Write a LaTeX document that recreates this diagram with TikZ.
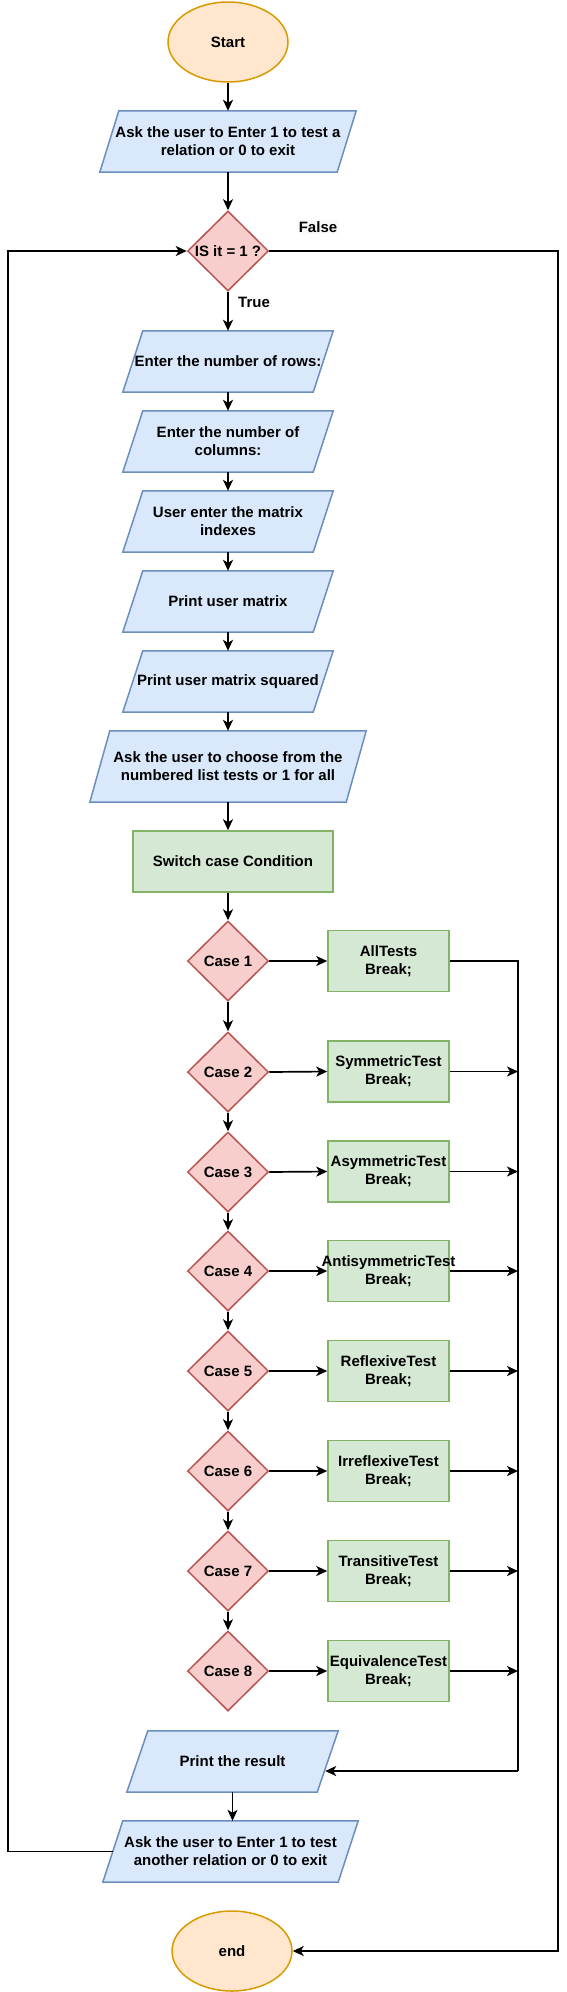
\documentclass[tikz,border=0pt]{standalone}
\usepackage{fontspec}
\setmainfont{Liberation Sans}
\usetikzlibrary{shapes.geometric,arrows.meta,backgrounds,calc}
\definecolor{orF}{HTML}{FFE6CC}
\definecolor{orD}{HTML}{D79B00}
\definecolor{blF}{HTML}{DAE8FC}
\definecolor{blD}{HTML}{6C8EBF}
\definecolor{rdF}{HTML}{F8CECC}
\definecolor{rdD}{HTML}{B85450}
\definecolor{grF}{HTML}{D5E8D4}
\definecolor{grD}{HTML}{82B366}
\definecolor{lblbg}{HTML}{F8F9FA}
\tikzset{
  base/.style={font=\fontsize{15}{18}\selectfont\bfseries, align=center, inner sep=0pt},
  term/.style={base, ellipse, draw=orD, fill=orF, line width=1.5pt, minimum width=120pt, minimum height=80pt},
  io/.style={base, rectangle, minimum width=#1, minimum height=61pt},
  dec/.style={base, diamond, draw=rdD, fill=rdF, line width=1.5pt, minimum width=81pt, minimum height=80pt, aspect=1},
  proc/.style={base, rectangle, draw=grD, fill=grF, line width=1.5pt, minimum width=121pt, minimum height=61pt},
  iopoly/.style={draw=blD, fill=blF, line width=1.5pt},
  arr/.style={line width=1.7pt, -{Stealth[length=11pt,width=10pt,inset=3pt]}},
  ln/.style={line width=1.7pt},
  lbl/.style={base, fill=lblbg, inner sep=1pt}
}
\begin{document}
\begin{tikzpicture}[x=1pt,y=-1pt]
\useasboundingbox (0,0) rectangle (567,1992);
% terminals
\node[term] (start) at (228,42) {Start};
\node[term] (end) at (232,1951) {end};
% io nodes
\node[io=256pt] (ask1) at (228,141.5) {Ask the user to Enter 1 to test a\\relation or 0 to exit};
\node[dec] (isit) at (228,251) {IS it = 1 ?};
\node[io=210pt] (rows) at (228,361.5) {Enter the number of rows:};
\node[io=210pt] (cols) at (228,441.5) {Enter the number of\\columns:};
\node[io=210pt] (idx) at (228,521.5) {User enter the matrix\\indexes};
\node[io=210pt] (pm) at (228,601.5) {Print user matrix};
\node[io=210pt] (pms) at (228,681.5) {Print user matrix squared};
\node[io=276pt, minimum height=71pt] (choose) at (228,766.5) {Ask the user to choose from the\\numbered list tests or 1 for all};
\node[proc, minimum width=200pt] (switch) at (233,861.5) {Switch case Condition};
% cases
\node[dec] (c1) at (228,961) {Case 1};
\node[dec] (c2) at (228,1072) {Case 2};
\node[dec] (c3) at (228,1172) {Case 3};
\node[dec] (c4) at (228,1271) {Case 4};
\node[dec] (c5) at (228,1371) {Case 5};
\node[dec] (c6) at (228,1471) {Case 6};
\node[dec] (c7) at (228,1571) {Case 7};
\node[dec] (c8) at (228,1671) {Case 8};
\node[proc] (b1) at (388.5,961) {AllTests\\Break;};
\node[proc] (b2) at (388.5,1071.5) {SymmetricTest\\Break;};
\node[proc] (b3) at (388.5,1171.5) {AsymmetricTest\\Break;};
\node[proc] (b4) at (388.5,1271) {\makebox[110pt]{AntisymmetricTest}\\Break;};
\node[proc] (b5) at (388.5,1371) {ReflexiveTest\\Break;};
\node[proc] (b6) at (388.5,1471) {IrreflexiveTest\\Break;};
\node[proc] (b7) at (388.5,1571) {TransitiveTest\\Break;};
\node[proc] (b8) at (388.5,1671) {EquivalenceTest\\Break;};
\node[io=211pt] (pr) at (232.5,1761.5) {Print the result};
\node[io=255pt] (again) at (230.5,1851.5) {Ask the user to Enter 1 to test\\another relation or 0 to exit};
% parallelogram outlines
\begin{scope}[on background layer]
\foreach \n/\s in {ask1/19pt, rows/20pt, cols/20pt, idx/20pt, pm/20pt, pms/20pt, choose/20pt, pr/21pt, again/20pt}{
  \draw[iopoly] ([xshift=\s]\n.north west) -- (\n.north east) -- ([xshift=-\s]\n.south east) -- (\n.south west) -- cycle;
}
\end{scope}
% coordinates
\coordinate (colTop) at (518,961);
\coordinate (colBot) at (518,1771);
\coordinate (rtTop) at (558,251);
\coordinate (lfX) at (8,251);
% connectors
\draw[arr] (start) -- (ask1);
\draw[arr] (ask1) -- (isit);
\draw[arr] (isit) -- (rows);
\draw[arr] (rows) -- (cols);
\draw[arr] (cols) -- (idx);
\draw[arr] (idx) -- (pm);
\draw[arr] (pm) -- (pms);
\draw[arr] (pms) -- (choose);
\draw[arr] (choose.south) -- (choose.south |- switch.north);
\draw[arr] (switch.south -| c1.north) -- (c1.north);
\foreach \i in {1,...,8}{
  \draw[arr] (c\i.east) -- (b\i.west);
}
\foreach \i/\j in {1/2,2/3,3/4,4/5,5/6,6/7,7/8}{
  \draw[arr] (c\i.south) -- (c\j.north);
}
\draw[ln] (b1.east) -- (colTop) -- (colBot);
\foreach \i in {2,...,8}{
  \draw[arr] (b\i.east) -- (b\i.east -| colTop);
}
\draw[arr] (colBot) -- ([xshift=-13pt,yshift=-9.5pt]pr.east);
\draw[arr] (pr.south) -- (pr.south |- again.north);
\draw[arr] (isit.east) -- (rtTop) -- (rtTop |- end.east) -- (end.east);
\draw[arr] ([xshift=10pt]again.west) -- (again.west -| lfX) -- (lfX) -- (isit.west);
% labels
\node[lbl] (lf) at (318,227) {False};
\node[base] (lt) at (254,302) {True};
\end{tikzpicture}
\end{document}
